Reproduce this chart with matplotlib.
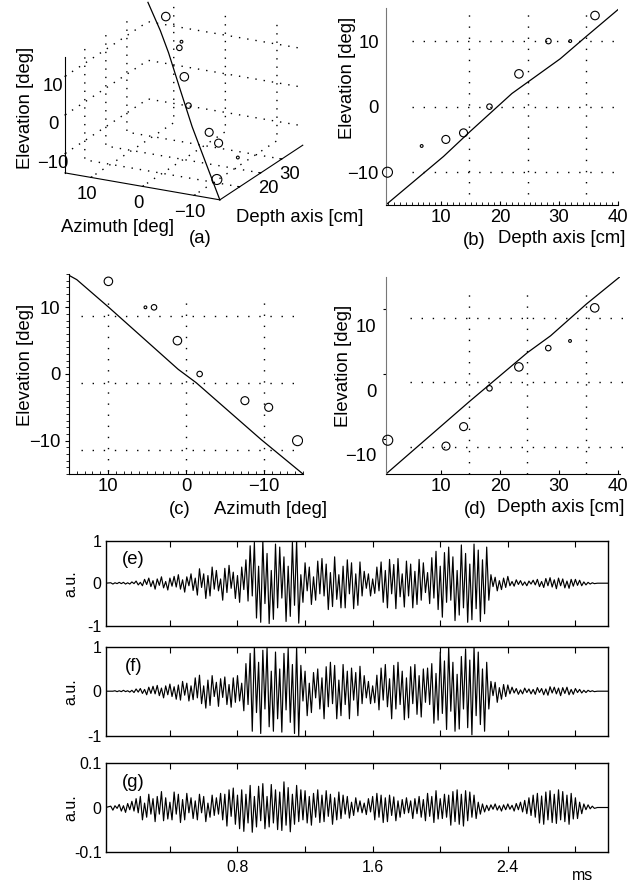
import matplotlib
matplotlib.use("Agg")
import matplotlib.pyplot as plt
import numpy as np
from matplotlib.ticker import MultipleLocator
from matplotlib.transforms import ScaledTranslation

plt.rcParams['font.family'] = ['Liberation Sans', 'DejaVu Sans']
plt.rcParams['axes.unicode_minus'] = True

# ── data: source points (depth, azimuth, elevation, relative amplitude) ──
depth = [36.1, 31.9, 28.2, 23.2, 18.2, 13.8, 10.8, 6.7, 0.9]
azim = [9.95, 5.2, 4.1, 1.1, -1.75, -7.55, -10.6, -16.0, -14.3]
elev = [13.9, 10.0, 10.0, 5.0, 0.0, -4.0, -5.0, -6.0, -10.0]
amp = [0.85, 0.28, 0.55, 0.85, 0.55, 0.8, 0.8, 0.28, 1.0]
# panel (d): corrected elevations (no value for the 6.7 cm source)
elev_d = [10.2, 5.1, 4.0, 1.1, -2.2, -8.1, -11.1, np.nan, -10.2]

# fitted lines
fit_b_depth = [0.6, 10.4, 14.9, 22.0, 30.2, 34.6, 40.0]
fit_b_elev = [-15.0, -7.6, -3.8, 2.0, 7.3, 10.7, 14.8]
fit_c_azim = [15.0, 14.0, 9.9, 1.0, -1.3, -9.6, -15.0]
fit_c_elev = [14.8, 14.15, 10.0, 0.7, -1.3, -9.8, -15.0]
fit_d_depth = [0.6, 14.7, 24.65, 28.6, 34.7, 40.4]
fit_d_elev = [-15.4, -4.3, 3.3, 5.9, 10.8, 15.0]
fit3_depth = [0.6, 10.4, 14.9, 22.0, 30.2, 34.6, 40.0]
fit3_azim = [-15.0, -7.4, -3.8, 1.4, 7.0, 10.4, 15.0]
fit3_elev = [-15.0, -7.6, -3.8, 2.0, 7.3, 10.7, 15.0]

# dotted reference grids (as drawn in the original panels)
grid_b_depth = [14.8, 24.7, 34.6]
grid_b_elev = [10, 0, -10]
grid_c_azim = [10, 0, -10]
grid_c_elev = [8.75, -1.3, -11.4]
grid_d_depth = [14.7, 24.65, 34.7]
grid_d_elev = [8.7, -1.3, -11.3]

# ── waveforms: half-cycle peak values, one every 0.0125 ms from 0.05 ms ──
wave_e = [  # x 0.01
    1, -2, 1, -1, 2, -1, 2, -2, 1, -2,
    3, -1, 5, -4, 2, -6, 9, -3, 12, -8,
    6, -14, 10, -5, 15, -11, 4, -16, 12, -7,
    16, -9, 20, -14, 8, -21, 15, -6, 22, -17,
    12, -28, 34, -10, 22, -36, 18, -30, 38, -14,
    30, -18, 10, -40, 35, -22, 42, -12, 26, -36,
    18, -45, 38, -15, 55, -42, 88, -30, 96, -82,
    40, -92, 100, -48, 70, -95, 30, -85, 92, -58,
    85, -35, 62, -90, 40, -78, 96, -52, 100, -94,
    20, -45, 48, -18, 38, -50, 15, -40, 52, -25,
    58, -30, 45, -62, 25, -55, 62, -38, 20, -58,
    40, -58, 55, -25, 48, -60, 22, -52, 50, -30,
    28, -12, 22, -30, 10, -24, 38, -18, 50, -45,
    30, -58, 56, -25, 44, -60, 58, -32, 22, -56,
    52, -30, 45, -58, 28, -50, 56, -40, 48, -22,
    25, -48, 60, -35, 75, -62, 40, -80, 72, -45,
    85, -40, 62, -88, 30, -75, 90, -58, 70, -92,
    45, -86, 92, -60, 78, -90, 55, -72, 85, -40,
    20, -8, 14, -18, 6, -15, 12, -10, 16, -6,
    4, -7, 8, -3, 6, -5, 3, -6, 5, -2,
    7, -4, 9, -8, 4, -10, 11, -6, 13, -9,
    8, -13, 12, -6, 10, -11, 5, -12, 9, -7,
    9, -5, 7, -6, 3, -4, 2, -2, 1, -1,
]
wave_f = [  # x 0.01
    0, 0, 1, -1, 1, -1, 2, -1, 1, -2,
    2, -3, 5, -2, 6, -5, 4, -8, 9, -5,
    11, -6, 13, -10, 7, -15, 12, -8, 16, -12,
    10, -18, 14, -20, 22, -9, 18, -22, 12, -19,
    30, -15, 36, -28, 12, -38, 25, -32, 35, -12,
    20, -34, 28, -14, 32, -30, 15, -36, 30, -25,
    35, -22, 18, -44, 62, -30, 85, -90, 100, -48,
    65, -95, 92, -40, 98, -80, 45, -90, 88, -62,
    50, -92, 85, -42, 96, -70, 60, -95, 100, -100,
    58, -22, 45, -55, 18, -48, 42, -15, 50, -40,
    30, -62, 55, -35, 65, -28, 58, -62, 25, -55,
    60, -30, 45, -62, 52, -20, 42, -55, 56, -28,
    35, -15, 22, -28, 12, -26, 36, -42, 52, -20,
    60, -35, 28, -62, 58, -40, 65, -30, 45, -64,
    30, -60, 55, -28, 60, -52, 35, -58, 50, -25,
    52, -30, 62, -72, 40, -65, 88, -50, 68, -86,
    100, -45, 65, -90, 38, -85, 78, -40, 95, -82,
    70, -98, 100, -55, 88, -75, 50, -90, 65, -40,
    22, -10, 20, -25, 8, -18, 15, -12, 14, -6,
    9, -4, 6, -7, 3, -6, 7, -3, 5, -6,
    4, -7, 8, -3, 6, -8, 5, -9, 10, -4,
    9, -6, 7, -10, 8, -5, 9, -8, 4, -7,
    6, -3, 4, -4, 2, -3, 2, -1, 1, -1,
]
wave_g = [  # x 0.001
    3, -6, 4, -2, 7, -8, 4, -11, 9, -5,
    14, -8, 20, -12, 25, -28, 10, -22, 30, -15,
    20, -32, 25, -15, 36, -30, 22, -26, 12, -28,
    35, -15, 30, -34, 18, -28, 32, -12, 22, -25,
    15, -28, 30, -12, 25, -32, 10, -22, 28, -18,
    22, -15, 32, -28, 30, -42, 40, -20, 44, -38,
    28, -48, 40, -54, 30, -35, 50, -56, 25, -44,
    48, -30, 54, -48, 25, -44, 52, -35, 40, -50,
    35, -52, 58, -40, 45, -55, 30, -38, 50, -32,
    40, -28, 38, -35, 25, -40, 32, -22, 40, -34,
    28, -32, 38, -20, 30, -38, 22, -28, 35, -25,
    28, -15, 25, -24, 12, -18, 22, -10, 15, -12,
    10, -16, 20, -10, 25, -28, 32, -22, 28, -34,
    22, -32, 28, -18, 24, -30, 15, -22, 18, -14,
    22, -12, 15, -25, 20, -14, 25, -22, 18, -30,
    32, -20, 25, -34, 38, -26, 20, -25, 30, -22,
    28, -40, 36, -32, 40, -38, 30, -42, 38, -30,
    35, -22, 28, -25, 12, -15, 8, -10, 5, -7,
    6, -4, 8, -6, 4, -8, 6, -5, 8, -4,
    5, -8, 9, -5, 12, -10, 16, -14, 22, -18,
    28, -22, 32, -35, 26, -38, 35, -28, 38, -34,
    30, -36, 40, -28, 36, -32, 28, -38, 32, -26,
    22, -25, 12, -14, 8, -5, 6, -3, 3, -2,
]
wave_t0, wave_dt = 0.05, 0.0125
time_ticks = [0.4, 0.8, 1.2, 1.6, 2.0, 2.4, 2.8]
time_ticklabels = ['', '0.8', '', '1.6', '', '2.4', '']

W, H = 639, 884
fig = plt.figure(figsize=(W / 100, H / 100), dpi=100)


def px_axes(x0, y0, x1, y1, **kw):
    return fig.add_axes([x0 / W, 1 - y1 / H, (x1 - x0) / W, (y1 - y0) / H], **kw)


def ftext(x, y, s, **kw):
    fig.text(x / W, 1 - y / H, s, ha='center', va='center', **kw)


FS = 13.3
sizes = [(10 * a * 0.72) ** 2 for a in amp]
dots = dict(color='k', linewidth=1.0, linestyle=(0, (1, 7)))

# ═══ (a) 3-D view ═══
ax3 = px_axes(26, -3, 336, 211, projection='3d')
ax3.set_proj_type('ortho')
ax3.view_init(elev=19.8, azim=-152.8)
ax3.set_box_aspect((180, 172.7, 122.2), zoom=1.27)
ax3.patch.set_alpha(0)
for axis in (ax3.xaxis, ax3.yaxis, ax3.zaxis):
    axis.set_pane_color((1, 1, 1, 0))
    axis.pane.set_edgecolor((1, 1, 1, 0))
    axis._axinfo['grid'].update(color='k', linewidth=1.0, linestyle=(0, (1, 5)))
    axis._axinfo['tick'].update(inward_factor=0.0, outward_factor=0.15)
    axis.line.set_color('k')
    axis.line.set_linewidth(0.8)
ax3.plot(fit3_depth, fit3_azim, fit3_elev, color='k', lw=0.9)
ax3.scatter(depth, azim, elev, s=sizes, facecolors='none', edgecolors='k',
            linewidths=0.8, depthshade=False)
ax3.set_xlim(0.6, 40)
ax3.set_ylim(-15, 15)
ax3.set_zlim(-15, 15)
ax3.set_xticks([10, 20, 30])
ax3.set_xticklabels(['', '20', '30'])
ax3.set_yticks([-10, 0, 10])
ax3.set_zticks([-10, 0, 10])
ax3.tick_params(labelsize=FS)
ax3.xaxis.set_tick_params(pad=-4)
ax3.yaxis.set_tick_params(pad=-4)
ax3.zaxis.set_tick_params(pad=-4)
ftext(25, 108, 'Elevation [deg]', fontsize=FS, rotation=90)
ftext(118, 228, 'Azimuth [deg]', fontsize=FS)
ftext(200, 239, '(a)', fontsize=FS)
ftext(300, 218, 'Depth axis [cm]', fontsize=FS)


def scatter2d(ax, x, y, clip):
    ax.scatter(x, y, s=sizes, facecolors='none', edgecolors='k',
               linewidths=0.8, clip_on=clip, zorder=3)


# ═══ (b) depth vs elevation ═══
axb = px_axes(385.7, 8.3, 618, 205)
axb.set_xlim(0.6, 40)
axb.set_ylim(-15, 15)
axb.vlines(grid_b_depth, -13.3, 14.3, **dots)
axb.hlines(grid_b_elev, 5.0, 39.6, **dots)
axb.plot(fit_b_depth, fit_b_elev, color='k', lw=0.9)
scatter2d(axb, depth, elev, False)
axb.set_xticks([10, 20, 30, 40])
axb.set_yticks([-10, 0, 10])
axb.xaxis.set_minor_locator(MultipleLocator(1))
axb.spines[['top', 'right']].set_visible(False)
axb.spines['left'].set_color('#777777')
axb.tick_params(direction='in', length=3, labelsize=FS, pad=3)
axb.tick_params(axis='y', length=0, pad=5)
axb.tick_params(which='minor', direction='in', length=2)
ftext(348, 78, 'Elevation [deg]', fontsize=FS, rotation=90)
ftext(474, 241, '(b)', fontsize=FS)
ftext(562, 239, 'Depth axis [cm]', fontsize=FS)

# ═══ (c) azimuth vs elevation ═══
axc = px_axes(69, 274, 303, 474)
axc.set_xlim(15, -15)
axc.set_ylim(-15, 15)
axc.vlines(grid_c_azim, -14.5, 11.9, **dots)
axc.hlines(grid_c_elev, 13.4, -14.7, **dots)
axc.plot(fit_c_azim, fit_c_elev, color='k', lw=0.9)
scatter2d(axc, azim, elev, True)
axc.set_xticks([10, 0, -10])
axc.set_yticks([-10, 0, 10])
axc.xaxis.set_minor_locator(MultipleLocator(1))
axc.yaxis.set_minor_locator(MultipleLocator(1))
axc.spines[['top', 'right']].set_visible(False)
axc.tick_params(direction='out', length=3, labelsize=FS, pad=3)
axc.tick_params(which='minor', direction='out', length=2)
axc.tick_params(axis='x', which='both', direction='in')
ftext(25, 365, 'Elevation [deg]', fontsize=FS, rotation=90)
ftext(180, 510, '(c)', fontsize=FS)
ftext(271, 509, 'Azimuth [deg]', fontsize=FS)

# ═══ (d) depth vs corrected elevation ═══
axd = px_axes(386, 276.7, 620, 474)
axd.set_xlim(0.6, 40.4)
axd.set_ylim(-15.4, 15)
axd.vlines(grid_d_depth, -15.4, 12.4, **dots)
axd.hlines(grid_d_elev, 4.6, 41.0, clip_on=False, **dots)
axd.plot(fit_d_depth, fit_d_elev, color='k', lw=0.9)
scatter2d(axd, depth, elev_d, False)
axd.set_xticks([10, 20, 30, 40])
axd.set_yticks([-10, 0, 10])
axd.spines[['top', 'right']].set_visible(False)
axd.spines['left'].set_color('#777777')
axd.tick_params(direction='in', length=3, labelsize=FS, pad=3)
axd.tick_params(axis='y', direction='out', length=2, pad=5)
for lab in axd.get_yticklabels():
    lab.set_transform(lab.get_transform() + ScaledTranslation(0, -0.16, fig.dpi_scale_trans))
ftext(344, 366, 'Elevation [deg]', fontsize=FS, rotation=90)
ftext(475, 510, '(d)', fontsize=FS)
ftext(561, 508, 'Depth axis [cm]', fontsize=FS)

# ═══ (e)(f)(g) waveforms ═══
FSW = 11.5
wave_panels = [
    ('(e)', wave_e, 0.01, 540.7, 625.7, 1.0, ['-1', '0', '1']),
    ('(f)', wave_f, 0.01, 646.7, 735.7, 1.0, ['-1', '0', '1']),
    ('(g)', wave_g, 0.001, 763.3, 851.7, 0.1, ['-0.1', '0', '0.1']),
]
for i, (tag, vals, scale, y0, y1, lim, ylabs) in enumerate(wave_panels):
    ax = px_axes(105.7, y0, 607.5, y1)
    n = len(vals)
    t = np.concatenate([[0.02], wave_t0 + wave_dt * np.arange(n), [2.93, 2.99]])
    v = np.concatenate([[0.0], np.array(vals) * scale, [0.0, 0.0]])
    ax.plot(t, v, color='k', lw=0.85)
    ax.set_xlim(0.02, 2.99)
    ax.set_ylim(-lim, lim)
    ax.set_xticks(time_ticks)
    ax.set_xticklabels(time_ticklabels if i == 2 else [''] * len(time_ticks))
    ax.set_yticks([-lim, 0, lim])
    ax.set_yticklabels(ylabs)
    ax.tick_params(axis='x', direction='in', length=4, top=True, labelsize=FSW, pad=6)
    ax.tick_params(axis='y', direction='in', length=0, labelsize=FSW, pad=3)
    for s in ax.spines.values():
        s.set_linewidth(1.0)
    ax.set_ylabel('a.u.', fontsize=FSW, labelpad=2)
    ax.yaxis.set_label_coords(-0.055, 0.5)
    ax.text(0.055, 0.78, tag, transform=ax.transAxes, fontsize=FS,
            ha='center', va='center')
ftext(582.5, 876, 'ms', fontsize=FSW)

fig.savefig('out.png', dpi=100)
